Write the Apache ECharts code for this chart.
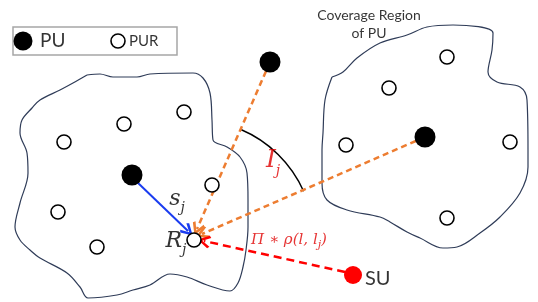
<!DOCTYPE html>
<html>
<head>
<meta charset="utf-8">
<script src="https://cdn.jsdelivr.net/npm/echarts@6/dist/echarts.min.js"></script>
<style>
html, body { margin: 0; padding: 0; background: #fff; }
#chart { width: 538px; height: 302px; }
</style>
</head>
<body>
<div id="chart"></div>
<script>
// outlines of the two coverage regions (x, y in picture units, y grows down)
const leftRegion = [[87,75],[100,74],[113,77],[137,77],[150,74],[193,73],[203,78],[210,93],[212,120],[213,140],[227,147],[240,157],[247,173],[248,200],[248,227],[246,250],[243,267],[238,283],[230,291],[207,285],[187,277],[170,274],[150,285],[133,290],[117,295],[88,298],[80,287],[67,273],[40,258],[30,250],[20,240],[15,227],[20,203],[28,173],[27,153],[20,133],[22,120],[32,108],[40,100],[60,90],[73,83],[87,75]]
const rightRegion = [[332,77],[343,72],[357,58],[380,43],[407,35],[427,27],[453,25],[493,33],[492,50],[488,72],[497,82],[520,87],[527,100],[528,150],[528,167],[520,193],[500,217],[480,233],[457,247],[443,248],[420,238],[407,232],[390,222],[380,217],[347,210],[327,200],[322,183],[322,150],[323,133],[325,100],[332,77]]

const puNodes = [[132,175],[270,62],[425,137]]
const purNodes = [[184,112],[124,124],[64,142],[212,185],[58,212],[97,247],[194,240],[447,57],[389,88],[346,145],[510,142],[447,218]]
const suNode = [[353,275]]
const legendPU = [[23,41]]
const legendPUR = [[118,41]]

const blueLinks = [[[137,182],[188,231]]]
const orangeLinks = [[[270,62],[197,229]],[[425,137],[202,234]]]
const redLinks = [[[345,272],[204,241]]]
// centre x, centre y, radius, start angle, end angle (degrees)
const angleArc = [[194,240,120,-67,-24]]

const textLabels = [
  { pos: [40,41], text: 'PU', size: 19, align: 'left' },
  { pos: [129,41], text: 'PUR', size: 15, align: 'left' },
  { pos: [369,24], text: 'Coverage Region\nof PU', size: 14, align: 'center' },
  { pos: [365,279], text: 'SU', size: 20, align: 'left' }
]
const mathLabels = [
  { pos: [176,244], text: '{m|R}{s|j}', color: '#000' },
  { pos: [177,202], text: '{m|s}{s|j}', color: '#000' },
  { pos: [273,163], text: '{b|I}{s|j}', color: '#e00000' },
  { pos: [289,242], text: '{p|Π ∗ ρ(l, l}{ps|j}{p|)}', color: '#e00000' }
]

const sansFont = 'Lato, "Open Sans", sans-serif'
const mathFont = '"DejaVu Serif", "Liberation Serif", serif'
const chevron = 'path://M5,0 L10,7 L8.4,8.2 L5,3 L1.6,8.2 L0,7 Z'

const chart = echarts.init(document.getElementById('chart'))

function linkSeries(data, color, type, width) {
  return {
    type: 'lines',
    coordinateSystem: 'cartesian2d',
    z: 3,
    silent: true,
    symbol: ['none', chevron],
    symbolSize: 13,
    lineStyle: { color: color, width: width, type: type, opacity: 1 },
    data: data.map(d => ({ coords: d }))
  }
}

const option = {
  animation: false,
  backgroundColor: '#fff',
  grid: { left: 0, right: 0, top: 0, bottom: 0 },
  xAxis: { type: 'value', min: 0, max: 538, show: false },
  yAxis: { type: 'value', min: 0, max: 302, inverse: true, show: false },
  graphic: [{
    type: 'rect',
    shape: { x: 13, y: 27, width: 164, height: 28 },
    style: { fill: 'none', stroke: '#a6a6a6', lineWidth: 1.5 },
    z: 1
  }],
  series: [
    {
      type: 'line', data: leftRegion, smooth: 0.35, showSymbol: false, z: 2,
      lineStyle: { color: '#2f3c58', width: 1.2 }
    },
    {
      type: 'line', data: rightRegion, smooth: 0.35, showSymbol: false, z: 2,
      lineStyle: { color: '#2f3c58', width: 1.2 }
    },
    {
      type: 'custom',
      z: 3,
      data: angleArc,
      renderItem(params, api) {
        const c = api.coord([api.value(0), api.value(1)])
        const r = api.size([api.value(2), 0])[0]
        return {
          type: 'arc',
          shape: {
            cx: c[0], cy: c[1], r: r,
            startAngle: api.value(3) * Math.PI / 180,
            endAngle: api.value(4) * Math.PI / 180
          },
          style: { stroke: '#000', lineWidth: 1.5, fill: null }
        }
      }
    },
    linkSeries(blueLinks, '#1a3cf0', 'solid', 2),
    linkSeries(orangeLinks, '#ed7d31', [6, 4], 2.5),
    linkSeries(redLinks, '#ff0000', [8, 5], 2.5),
    {
      type: 'scatter', data: purNodes.concat(legendPUR), symbol: 'circle', symbolSize: 14, z: 5,
      itemStyle: { color: '#fff', borderColor: '#000', borderWidth: 1.6, opacity: 1 }
    },
    {
      type: 'scatter', data: puNodes, symbol: 'circle', symbolSize: 21, z: 5,
      itemStyle: { color: '#000', opacity: 1 }
    },
    {
      type: 'scatter', data: legendPU, symbol: 'circle', symbolSize: 19, z: 5,
      itemStyle: { color: '#000', opacity: 1 }
    },
    {
      type: 'scatter', data: suNode, symbol: 'circle', symbolSize: 18, z: 5,
      itemStyle: { color: '#ff0000', opacity: 1 }
    },
    {
      type: 'scatter', symbolSize: 0, z: 6, silent: true,
      data: textLabels.map(t => ({
        value: t.pos,
        label: {
          show: true, position: 'inside', formatter: t.text,
          fontFamily: sansFont, fontSize: t.size, color: '#000',
          align: t.align, verticalAlign: 'middle', lineHeight: t.size + 4
        }
      }))
    },
    {
      type: 'scatter', symbolSize: 0, z: 6, silent: true,
      data: mathLabels.map(t => ({
        value: t.pos,
        label: {
          show: true, position: 'inside', formatter: t.text,
          align: 'center', verticalAlign: 'middle', color: t.color,
          rich: {
            m: { fontFamily: mathFont, fontStyle: 'italic', fontSize: 22, lineHeight: 27, color: t.color, verticalAlign: 'top' },
            b: { fontFamily: mathFont, fontStyle: 'italic', fontSize: 25, lineHeight: 30, color: t.color, verticalAlign: 'top' },
            s: { fontFamily: mathFont, fontStyle: 'italic', fontSize: 14, lineHeight: 14, color: t.color, verticalAlign: 'bottom' },
            p: { fontFamily: mathFont, fontStyle: 'italic', fontSize: 15, lineHeight: 18, color: t.color, verticalAlign: 'top' },
            ps: { fontFamily: mathFont, fontStyle: 'italic', fontSize: 11, lineHeight: 11, color: t.color, verticalAlign: 'bottom' }
          }
        }
      }))
    }
  ]
}

chart.setOption(option)
</script>
</body>
</html>
